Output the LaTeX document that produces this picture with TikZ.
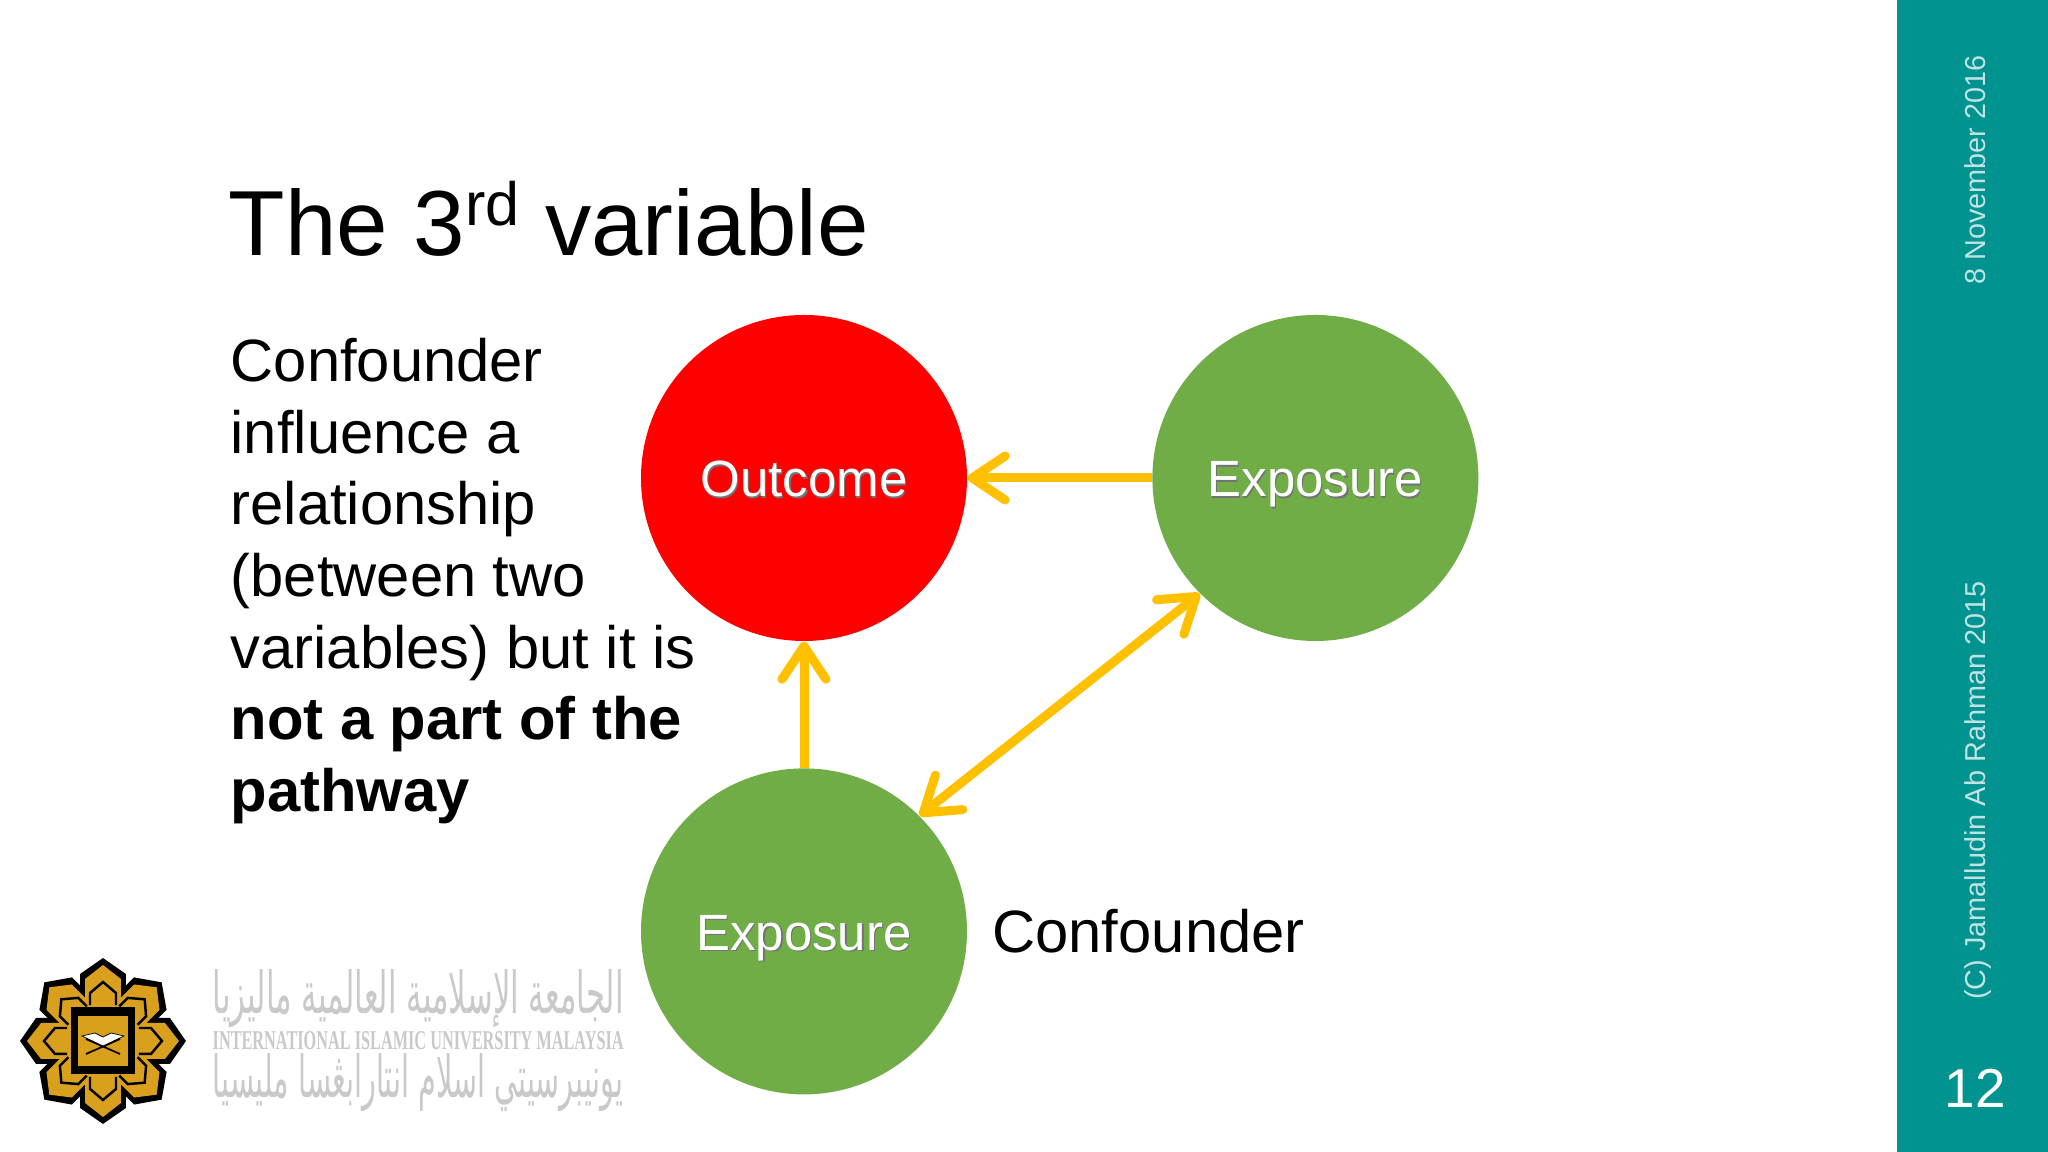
\documentclass[tikz,border=0pt]{standalone}
\usepackage{fontspec}
\usepackage{graphicx}
\setmainfont{Liberation Sans}
\newfontfamily\arabicfont[Script=Arabic]{DejaVu Sans}
\newfontfamily\logoserif{Liberation Serif}
\TeXXeTstate=1
\usetikzlibrary{arrows.meta, positioning}
\definecolor{barteal}{HTML}{00938F}
\definecolor{barlight}{HTML}{BFE3E3}
\definecolor{wngreen}{HTML}{70AD47}
\definecolor{arrowgold}{HTML}{FFC000}
\definecolor{logogold}{HTML}{D9A01E}
\definecolor{logogrey}{HTML}{C9C9C9}
\newcommand{\shadowed}[1]{\rlap{\raisebox{-0.35pt}{\hspace{0.35pt}\textcolor{black!55}{#1}}}#1}
\tikzset{
    %Define standard arrow tip
    >={Straight Barb[length=0.33cm,width=0.44cm,round]},
}

\begin{document}
\begin{tikzpicture}
    	\tikzset{
	  wn/.style={circle, minimum size=3.26cm, inner sep=0pt,
	             text=white, text height=10.8pt, text depth=0pt,
		     font=\fontsize{14.5}{17}\selectfont},
	 link/.style={draw=arrowgold, line width=0.09cm, line cap=butt},
	 barlabel/.style={rotate=90, text=barlight, inner sep=0pt,
		     font=\fontsize{8.2}{10}\selectfont},
	 logotext/.style={text=logogrey, inner sep=0pt}
	}
	\useasboundingbox (0,0) rectangle (20.48,11.52);
	\fill[white] (0,0) rectangle (20.48,11.52);
	\fill[barteal] (18.97,0) rectangle (20.48,11.52);

    	\node [anchor=base west, inner sep=0pt, font=\fontsize{26.3}{30}\selectfont] (title) at (2.28,8.96) {The 3\raisebox{0.33em}{\fontsize{17.4}{20}\selectfont rd} variable};
    	\node [anchor=north west, inner sep=0pt, align=left, font=\fontsize{17}{20.4}\selectfont] (body) at (2.30,8.146) {Confounder\\influence a\\relationship\\(between two\\variables) but it is\\\textbf{not a part of the}\\\textbf{pathway}};

    	\node [wn, fill=red] (outcome) at (8.04,6.74) {\shadowed{Outcome}};
    	\node [wn, right =1.84cm of outcome, fill=wngreen] (exposure) {\shadowed{Exposure}};
    	\node [wn, below =1.26cm of outcome, fill=wngreen] (confounder) {\shadowed{Exposure}};
	\node [right = 0.24cm of confounder, inner sep=0pt, font=\fontsize{17}{20.4}\selectfont] (confounderlabel) {Confounder};

        \path[link,->] (exposure) edge (outcome)
	               (confounder) edge (outcome);
        \draw[link,<->] (confounder.45) -- (exposure.225);

	\node[barlabel, anchor=base east] (datelabel) at (19.85,10.97) {8 November 2016};
	\node[barlabel, anchor=base east] (authorlabel) at (19.85,5.71) {(C) Jamalludin Ab Rahman 2015};
	\node[text=white, font=\fontsize{15.6}{18}\selectfont] (pagenum) at (19.75,0.64) {12};

	% logo
	\begin{scope}[shift={(1.03,1.11)}, scale=0.01]
	  \foreach \a in {0,45,...,315}
	    \fill[black, rotate=\a] (0,83) -- (23,67) -- (23,30) -- (-23,30) -- (-23,67) -- cycle;
	  \foreach \a in {0,45,...,315}
	    \fill[logogold, rotate=\a] (0,76) -- (18,62) -- (18,30) -- (-18,30) -- (-18,62) -- cycle;
	  \foreach \a in {0,45,...,315}
	    \draw[black, line width=0.7pt, rotate=\a] (-13,36) -- (-13,48) -- (0,59) -- (13,48) -- (13,36);
	  \fill[black] (-32,-33) rectangle (32,34);
	  \fill[logogold] (-25,-25) rectangle (25,25);
	  \draw[black, line width=0.5pt] (-17,-13) -- (17,2) (17,-13) -- (-17,2);
	  \fill[white, draw=black, line width=0.2pt] (-21,5) -- (-8,8) -- (0,4) -- (8,8) -- (21,5) -- (0,-5) -- cycle;
	\end{scope}
	\node[logotext, anchor=west] (logoarabic) at (2.12,1.53) {\resizebox{4.11cm}{0.44cm}{\arabicfont\beginR الجامعة الإسلامية العالمية ماليزيا\endR}};
	\node[logotext, anchor=west] (logoname) at (2.12,1.11) {\resizebox{4.11cm}{0.18cm}{\logoserif\bfseries INTERNATIONAL ISLAMIC UNIVERSITY MALAYSIA}};
	\node[logotext, anchor=west] (logojawi) at (2.12,0.69) {\resizebox{4.11cm}{0.44cm}{\arabicfont\beginR يونيبرسيتي اسلام انتارابڠسا مليسيا\endR}};

    \end{tikzpicture}
\end{document}
